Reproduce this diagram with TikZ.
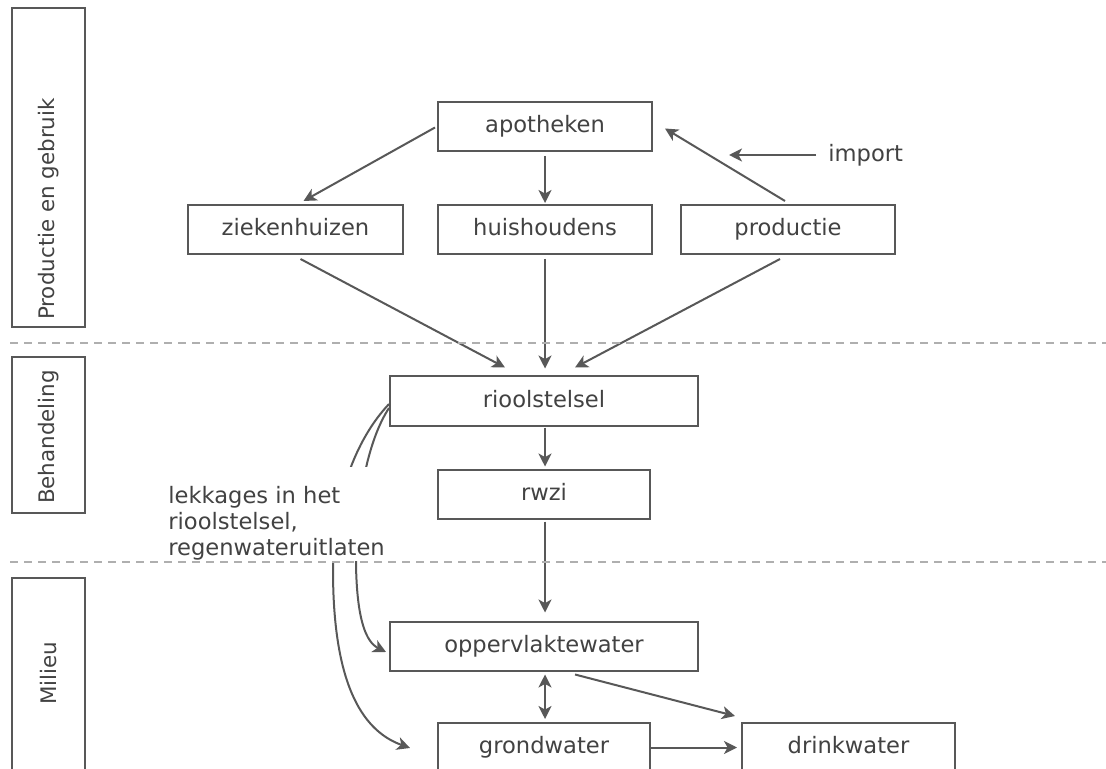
\documentclass[tikz,border=0pt]{standalone}
\usepackage{fontspec}
\setmainfont{DejaVu Sans}
\usetikzlibrary{arrows.meta,calc}
\definecolor{linecol}{RGB}{88,88,88}
\definecolor{textcol}{RGB}{66,66,66}
\definecolor{dashcol}{RGB}{175,175,175}
\newcommand{\fsz}{\fontsize{11.3}{13}\selectfont}
\newcommand{\fsside}{\fontsize{10.7}{13}\selectfont}
\begin{document}
\begin{tikzpicture}[x=0.5pt,y=-0.5pt,
  box/.style={draw=linecol, line width=1pt, minimum height=24.5pt, inner sep=0pt, text=textcol, font=\fsz, text height=8.6pt, text depth=2.4pt},
  side/.style={draw=linecol, line width=1pt, minimum width=36.5pt, inner sep=0pt},
  sidetxt/.style={text=textcol, font=\fsside, rotate=90, inner sep=0pt},
  arr/.style={draw=linecol, line width=1pt, -{Stealth[length=6.5pt,width=6.5pt,inset=1.8pt]}},
  darr/.style={draw=linecol, line width=1pt, {Stealth[length=6.5pt,width=6.5pt,inset=1.8pt]}-{Stealth[length=6.5pt,width=6.5pt,inset=1.8pt]}},
  sep/.style={draw=dashcol, line width=0.6pt, dash pattern=on 4pt off 3pt},
  lbl/.style={text=textcol, font=\fsz}]
\clip (0,0) rectangle (1106,769);
\fill[white] (0,0) rectangle (1106,769);

% side boxes
\node[side, minimum height=159.5pt] (s1) at (48.5,167.5) {};
\node[sidetxt] (s1t) at (48.5,209) {Productie en gebruik};
\node[side, minimum height=78pt] (s2) at (48.5,435) {};
\node[sidetxt] (s2t) at (48.5,437) {Behandeling};
\node[side, minimum height=112pt] (s3) at (48.5,690) {};
\node[sidetxt] (s3t) at (48.5,673) {Milieu};

% main boxes
\node[box, minimum width=107pt] (apo) at (545,126.5) {apotheken};
\node[box, minimum width=107.5pt] (zkh) at (295.5,229.5) {ziekenhuizen};
\node[box, minimum width=107pt] (hh) at (545,229.5) {huishoudens};
\node[box, minimum width=107pt] (prod) at (788,229.5) {productie};
\node[box, minimum width=154pt] (riool) at (544,401) {rioolstelsel};
\node[box, minimum width=106pt] (rwzi) at (544,494) {rwzi};
\node[box, minimum width=154pt] (opp) at (544,646) {oppervlaktewater};
\node[box, minimum width=106pt] (grond) at (544,747.5) {grondwater};
\node[box, minimum width=106.5pt] (drink) at (848.5,747.5) {drinkwater};

\node[lbl, anchor=west, inner sep=0pt] (imp) at (828,155) {import};
\coordinate (impend) at (729,155);
\coordinate (gend) at (410,748);

% top arrows
\draw[arr] ($(apo.west)+(-2,1)$) -- ($(zkh.north)+(8,-3)$);
\draw[arr] ($(apo.south)+(0,4)$) -- ($(hh.north)+(0,-1)$);
\draw[arr] ($(prod.north)+(-3,-3)$) -- ($(apo.east)+(12,2)$);
\draw[arr] ($(imp.west)+(-12,0)$) -- (impend);

% to riool
\draw[arr] ($(zkh.south)+(5,4)$) -- ($(riool.north)+(-39,-8)$);
\draw[arr] ($(hh.south)+(0,4)$) -- ($(riool.north)+(1,-7)$);
\draw[arr] ($(prod.south)+(-8,4)$) -- ($(riool.north)+(31,-8)$);

% chain
\draw[arr] ($(riool.south)+(1,1)$) -- ($(rwzi.north)+(1,-2)$);
\draw[arr] ($(rwzi.south)+(1,2)$) -- ($(opp.north)+(1,-8)$);
\draw[darr] ($(opp.south)+(1,3)$) -- ($(grond.north)+(1,-3)$);
\draw[arr] ($(opp.south)+(31,3)$) -- ($(drink.north west)+(-6,-6)$);
\draw[arr] (grond.east) -- ($(drink.west)+(-4,0)$);

% leak curves
\draw[arr] ($(riool.west)+(0,3)$) .. controls (355,440) and (333,500) .. (333,570) .. controls (333,680) and (360,730) .. (gend);
\draw[arr] ($(riool.west)+(0,7)$) .. controls (368,440) and (356,500) .. (356,565) .. controls (357,620) and (366,642) .. ($(opp.west)+(-3,6)$);

% label covering the curves
\node[lbl, anchor=north west, align=left, fill=white, inner xsep=3pt, inner ysep=0pt, minimum height=47pt, text depth=0pt] (leak) at (162,467)
  {\rule{0pt}{15.5pt}lekkages in het\\rioolstelsel,\\regenwateruitlaten};

% separators
\draw[sep] (10,343) -- (1106,343);
\draw[sep] (10,562) -- (1106,562);
\end{tikzpicture}
\end{document}
